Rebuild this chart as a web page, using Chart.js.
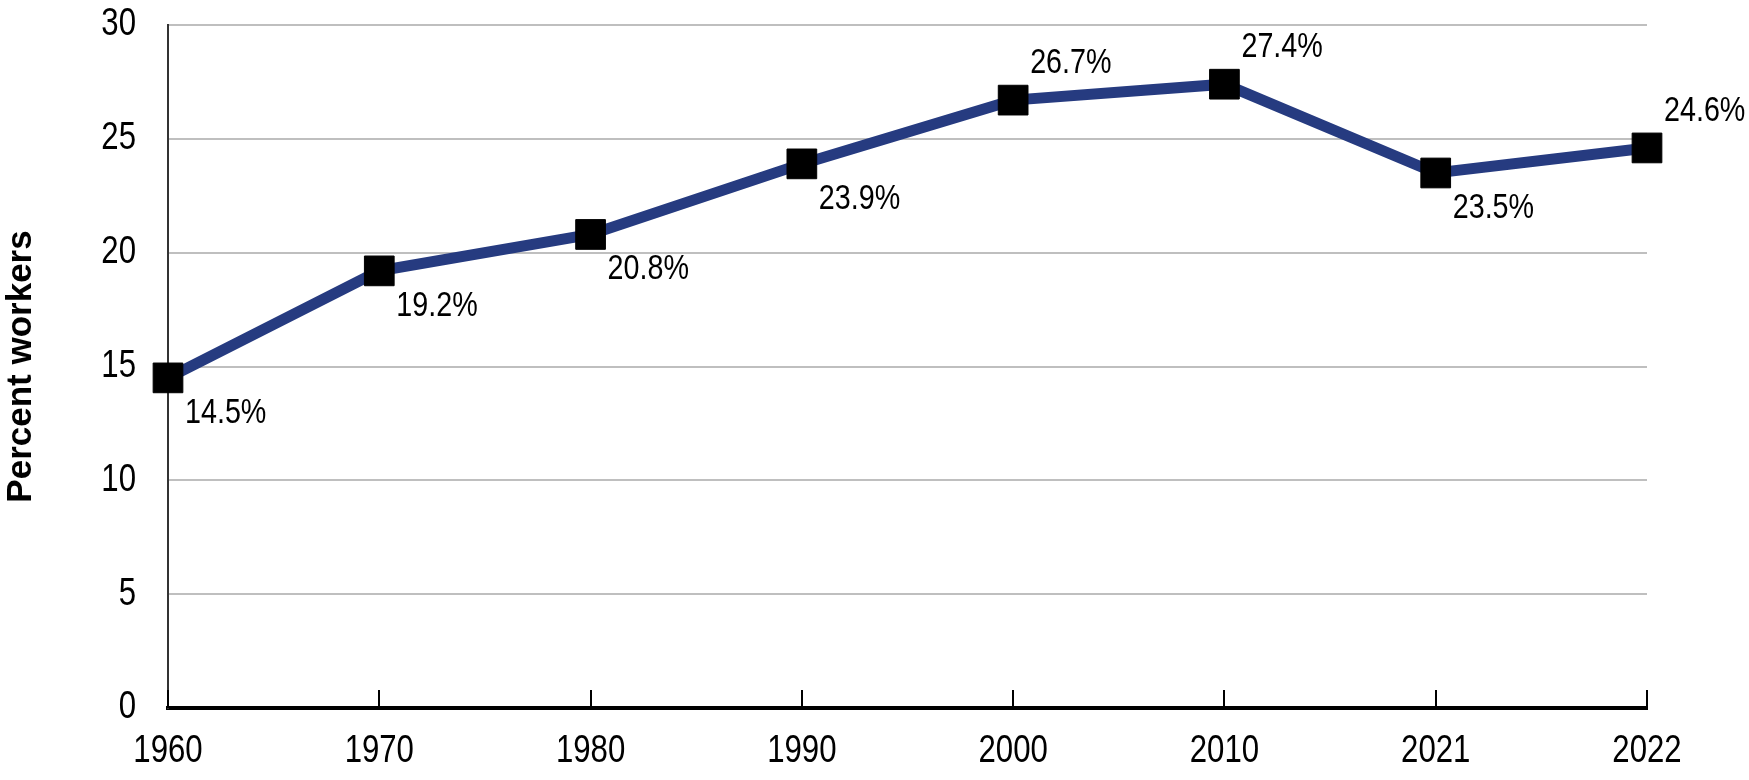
<!DOCTYPE html>
<html>
<head>
<meta charset="utf-8">
<script src="https://cdn.jsdelivr.net/npm/chart.js@4"></script>
<style>
  html, body { margin: 0; padding: 0; background: #fff; }
  #wrap { width: 1749px; height: 780px; }
</style>
</head>
<body>
<div id="wrap"><canvas id="workersChart" width="1749" height="780"></canvas></div>
<script>
const years = ['1960', '1970', '1980', '1990', '2000', '2010', '2021', '2022'];
const percentWorkers = [14.5, 19.2, 20.8, 23.9, 26.7, 27.4, 23.5, 24.6];
const yTicks = [0, 5, 10, 15, 20, 25, 30];

const sans = "'Liberation Sans', Arial, sans-serif";
const squeeze = 0.82; // no Arial Narrow installed, so squash Liberation Sans
const labelsAbove = ['2000', '2010', '2022'];

function narrowText(ctx, txt, x, y, align) {
    ctx.save();
    ctx.translate(x, y);
    ctx.scale(squeeze, 1);
    ctx.textAlign = align;
    ctx.fillText(txt, 0, 0);
    ctx.restore();
}

// value labels next to each marker
const pointLabels = {
    id: 'pointLabels',
    afterDatasetsDraw(chart) {
        const ctx = chart.ctx;
        const meta = chart.getDatasetMeta(0);
        ctx.save();
        ctx.font = '35px ' + sans;
        ctx.fillStyle = '#000';
        ctx.textBaseline = 'middle';
        meta.data.forEach((pt, i) => {
            const above = labelsAbove.includes(years[i]);
            const txt = percentWorkers[i].toFixed(1) + '%';
            narrowText(ctx, txt, pt.x + 17, pt.y + (above ? -37 : 35), 'left');
        });
        ctx.restore();
    }
};

// tick labels in narrow type + small tick marks pointing up from the x axis
const axisDecor = {
    id: 'axisDecor',
    afterDraw(chart) {
        const ctx = chart.ctx;
        const xs = chart.scales.x;
        const ys = chart.scales.y;
        const area = chart.chartArea;
        ctx.save();
        ctx.strokeStyle = '#000';
        ctx.lineWidth = 2;
        xs.ticks.forEach((t, i) => {
            const x = Math.round(xs.getPixelForTick(i));
            ctx.beginPath();
            ctx.moveTo(x, area.bottom);
            ctx.lineTo(x, area.bottom - 18);
            ctx.stroke();
        });
        ctx.font = '38px ' + sans;
        ctx.fillStyle = '#000';
        ctx.textBaseline = 'middle';
        xs.ticks.forEach((t, i) => {
            narrowText(ctx, xs.getLabelForValue(t.value), xs.getPixelForTick(i), area.bottom + 44, 'center');
        });
        ys.ticks.forEach((t, i) => {
            narrowText(ctx, String(t.value), area.left - 32, ys.getPixelForValue(t.value), 'right');
        });
        ctx.restore();
    }
};

const ctx = document.getElementById('workersChart').getContext('2d');

const workersChart = new Chart(ctx, {
    type: 'line',
    data: {
        labels: years,
        datasets: [{
            label: 'Percent workers',
            data: percentWorkers,
            borderColor: '#263b80',
            borderWidth: 11,
            pointStyle: 'rect',
            pointRadius: 21,
            pointHoverRadius: 21,
            pointBackgroundColor: '#000',
            pointBorderColor: '#000',
            pointBorderWidth: 1,
            tension: 0,
            clip: false
        }]
    },
    options: {
        responsive: false,
        maintainAspectRatio: false,
        animation: false,
        layout: {
            padding: { top: 25, right: 102, bottom: 0, left: 0 }
        },
        plugins: {
            legend: { display: false },
            tooltip: { enabled: false }
        },
        scales: {
            x: {
                offset: false,
                grid: { display: false },
                border: { display: true, color: '#000', width: 4 },
                ticks: { display: false },
                afterFit(scale) { scale.height = 72; }
            },
            y: {
                min: 0,
                max: 30,
                afterBuildTicks(scale) {
                    scale.ticks = yTicks.map(v => ({ value: v }));
                },
                grid: { color: '#bfbfbf', lineWidth: 2, drawTicks: false },
                border: { display: true, color: '#333', width: 2 },
                ticks: { display: false },
                title: {
                    display: true,
                    text: 'Percent workers',
                    color: '#000',
                    font: { family: sans, size: 35, weight: 'bold' },
                    padding: { top: 0, bottom: 0 }
                },
                afterFit(scale) { scale.width = 168; }
            }
        }
    },
    plugins: [pointLabels, axisDecor]
});
</script>
</body>
</html>
